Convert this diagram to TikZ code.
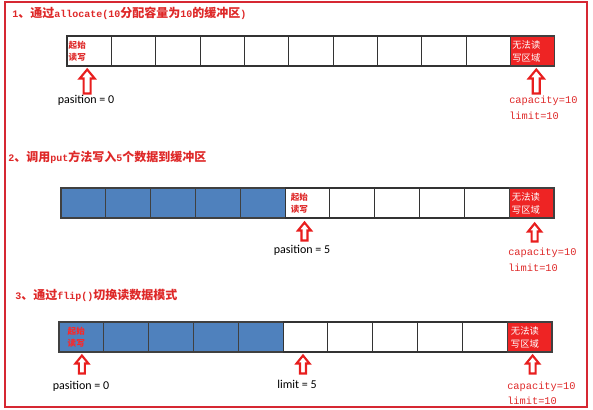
\documentclass[tikz,border=0pt]{standalone}
\usepackage{fontspec}
\setmainfont{Carlito}
\newfontfamily\cjk{Noto Sans CJK SC}
\newfontfamily\lmono{Liberation Mono}
\usetikzlibrary{calc}
\definecolor{fred}{RGB}{214,40,50}
\definecolor{tred}{RGB}{222,40,40}
\definecolor{cblue}{RGB}{79,129,189}
\definecolor{cellred}{RGB}{238,36,36}
\definecolor{ared}{RGB}{232,30,30}
\newcommand{\lat}[1]{{\lmono\bfseries\fontsize{7.5}{9}\selectfont #1}}
\begin{document}
\begin{tikzpicture}[x=0.75pt,y=-0.75pt,
  cell/.style={draw=black!80, line width=0.8pt, minimum width=#1*0.75pt, minimum height=22.5pt, inner sep=0pt},
  bluecell/.style={cell=#1, fill=cblue, draw=black!75},
  redcell/.style={cell=#1, fill=cellred, draw=black!75},
  title/.style={anchor=west, inner sep=0pt, text=tred, font=\cjk\bfseries\fontsize{9}{11}\selectfont},
  starttxt/.style={anchor=west, inner sep=0pt, align=left, text=tred, font=\cjk\bfseries\fontsize{6.4}{9}\selectfont},
  notxt/.style={anchor=west, inner sep=0pt, align=left, text=white, font=\cjk\fontsize{7}{9.75}\selectfont},
  postxt/.style={inner sep=0pt, font=\fontsize{9}{11}\selectfont},
  montxt/.style={anchor=west, inner sep=0pt, text=tred, font=\lmono\fontsize{7.75}{9}\selectfont},
  arrline/.style={draw=aredline, line width=1.6pt, line join=miter},
  aredline/.code={},
  bigarr/.pic={\draw[ared, line width=1.6pt] (0,0) -- (7.5,9) -- (3.5,9) -- (3.5,24) -- (-3.5,24) -- (-3.5,9) -- (-7.5,9) -- cycle;},
  smallarr/.pic={\draw[ared, line width=1.6pt] (0,0) -- (6.5,8) -- (3,8) -- (3,18) -- (-3,18) -- (-3,8) -- (-6.5,8) -- cycle;}
]
\useasboundingbox (0,0) rectangle (593,410);
\draw[fred, line width=1.5pt] (4.5,2.5) rectangle (587,407);

% ---------- row 1
\node[title] (t1) at (12,13) {\lat{1}、通过\lat{allocate(10}分配容量为\lat{10}的缓冲区\lat{)}};
\foreach \i in {0,...,9} \node[cell=44.36] (a\i) at ({67+(\i+0.5)*44.36},51) {};
\node[redcell=44.36] (a10) at ({67+10.5*44.36},51) {};
\node[starttxt] (a0t) at ($(a0.west)+(2,0)$) {起始\\读写};
\node[notxt] (a10t) at ($(a10.west)+(2,0)$) {无法读\\写区域};
\pic at ($(a0.south)+(-2,3)$) {bigarr};
\pic at ($(a10.south)+(3.5,3)$) {bigarr};
\node[postxt] (a0p) at (86,100) {pasition = 0};
\node[montxt] (a10c) at (509,101) {capacity=10};
\node[montxt] (a10l) at (509,116) {limit=10};

% ---------- row 2
\node[title] (t2) at (8,157) {\lat{2}、调用\lat{put}方法写入\lat{5}个数据到缓冲区};
\foreach \i in {0,...,4} \node[bluecell=44.82] (b\i) at ({61+(\i+0.5)*44.82},203) {};
\foreach \i in {5,...,9} \node[cell=44.82] (b\i) at ({61+(\i+0.5)*44.82},203) {};
\node[redcell=44.82] (b10) at ({61+10.5*44.82},203) {};
\node[starttxt] (b5t) at ($(b5.west)+(6,0)$) {起始\\读写};
\node[notxt] (b10t) at ($(b10.west)+(3,0)$) {无法读\\写区域};
\pic at ($(b5.south)+(-3,4)$) {smallarr};
\pic at ($(b10.south)+(3,5)$) {smallarr};
\node[postxt] (b5p) at (302,250) {pasition = 5};
\node[montxt] (b10c) at (508,253) {capacity=10};
\node[montxt] (b10l) at (508,268) {limit=10};

% ---------- row 3
\node[title] (t3) at (15,295) {\lat{3}、通过\lat{flip()}切换读数据模式};
\foreach \i in {0,...,4} \node[bluecell=44.82] (c\i) at ({59+(\i+0.5)*44.82},337) {};
\foreach \i in {5,...,9} \node[cell=44.82] (c\i) at ({59+(\i+0.5)*44.82},337) {};
\node[redcell=44.82] (c10) at ({59+10.5*44.82},337) {};
\node[starttxt, text=red!85!white] (c0t) at ($(c0.west)+(9,0)$) {起始\\读写};
\node[notxt] (c10t) at ($(c10.west)+(4,0)$) {无法读\\写区域};
\pic at ($(c0.south)+(0.5,3)$) {smallarr};
\pic at ($(c5.south)+(-2.5,3)$) {smallarr};
\pic at ($(c10.south)+(3,3)$) {smallarr};
\node[postxt] (c0p) at (81,386) {pasition = 0};
\node[postxt] (c5p) at (297,384) {limit = 5};
\node[montxt] (c10c) at (507,387) {capacity=10};
\node[montxt] (c10l) at (507,401) {limit=10};
\end{tikzpicture}
\end{document}
